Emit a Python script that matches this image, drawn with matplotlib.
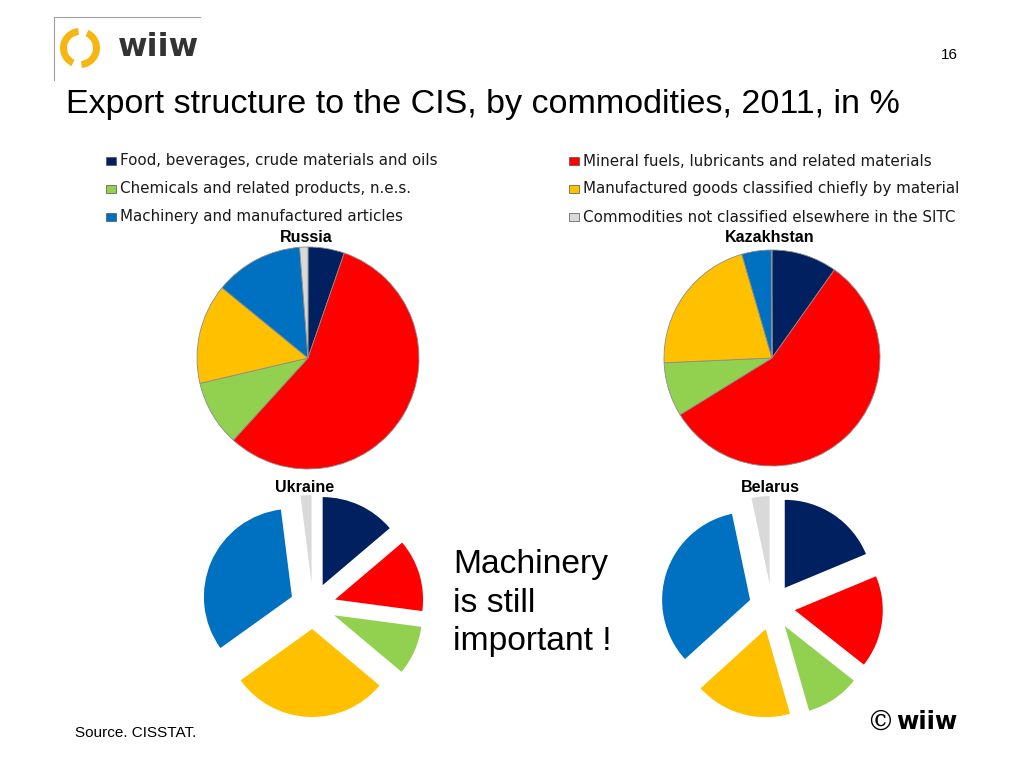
import numpy as np
import matplotlib
matplotlib.use("Agg")
import matplotlib.pyplot as plt
from matplotlib.patches import Rectangle, Wedge

# categories (legend order: left column then right column)
categories = ["Food, beverages, crude materials and oils",
              "Mineral fuels, lubricants and related materials",
              "Chemicals and related products, n.e.s.",
              "Manufactured goods classified chiefly by material",
              "Machinery and manufactured articles",
              "Commodities not classified elsewhere in the SITC"]
colors = ["#002060", "#FF0000", "#92D050", "#FFC000", "#0070C0", "#D9D9D9"]

# shares in %, same order as categories
russia = [5.3, 56.5, 9.6, 14.6, 12.9, 1.2]
kazakhstan = [9.8, 56.4, 8.1, 21.2, 4.4, 0.1]
ukraine = [13.8, 13.3, 9.0, 29.0, 32.9, 2.0]
belarus = [18.7, 16.9, 9.9, 17.7, 33.4, 3.3]

fig = plt.figure(figsize=(10.24, 7.68), dpi=100, facecolor="white")
ax = fig.add_axes([0, 0, 1, 1])
H = 768

def py(y):  # pixel row -> data y
    return H - y

# top pies (no explode, thin grey edges)
for vals, cx, cy, r, name in [(russia, 308, 358, 111, "Russia"),
                              (kazakhstan, 772, 358, 108, "Kazakhstan")]:
    ax.pie(vals, colors=colors, startangle=90, counterclock=False,
           center=(cx, py(cy)), radius=r,
           wedgeprops=dict(edgecolor="#8c8c8c", linewidth=0.6))
    ax.text(cx - 2, py(238), name, ha="center", va="center", fontsize=11.5,
            fontweight="bold", family="Liberation Sans")

# bottom pies (exploded)
for vals, cx, cy, r, name, tx in [(ukraine, 313, 606, 88, "Ukraine", 305),
                                  (belarus, 772, 607, 88, "Belarus", 770)]:
    ax.pie(vals, colors=colors, startangle=90, counterclock=False,
           center=(cx, py(cy)), radius=r, explode=[23] * len(vals),
           wedgeprops=dict(linewidth=0))
    ax.text(tx, py(487), name, ha="center", va="center", fontsize=11.5,
            fontweight="bold", family="Liberation Sans")

ax.set_xlim(0, 1024)
ax.set_ylim(0, 768)
ax.set_aspect("equal")
ax.axis("off")

# legend, drawn by hand in two columns
for i, (lab, col) in enumerate(zip(categories, colors)):
    colx = 106 if i % 2 == 0 else 569
    rowy = 161 + 28 * (i // 2)
    ax.add_patch(Rectangle((colx, py(rowy) - 4), 10, 8, facecolor=col,
                           edgecolor="#505050", linewidth=0.5))
    ax.text(colx + 14, py(rowy), lab, ha="left", va="center", fontsize=10.9,
            family="DejaVu Sans", color="#1a1a1a")

# logo box and icon
ax.plot([54, 54], [py(17), py(80)], color="#a0a0a0", lw=0.8)
ax.plot([54, 200], [py(17), py(17)], color="#a0a0a0", lw=0.8)
ax.add_patch(Wedge((80, py(48)), 20, 95, 245, width=7, facecolor="#F7B512", edgecolor="none"))
ax.add_patch(Wedge((80, py(48)), 20, 275, 425, width=7, facecolor="#F7B512", edgecolor="none"))
ax.text(118, py(48), "wiiw", ha="left", va="center", fontsize=23, fontweight="bold",
        family="DejaVu Sans", color="#333333")

ax.text(958, py(55), "16", ha="right", va="center", fontsize=11, family="Liberation Sans")
ax.text(66, py(105), "Export structure to the CIS, by commodities, 2011, in %",
        ha="left", va="center", fontsize=24.5, family="Liberation Sans")

ax.text(453, py(603), "Machinery\nis still\nimportant !", ha="left", va="center",
        fontsize=24.2, family="Liberation Sans", linespacing=1.3)

ax.text(75, py(733), "Source. CISSTAT.", ha="left", va="center", fontsize=11,
        family="Liberation Sans")
ax.text(880, py(722), "\u00a9", ha="center", va="center", fontsize=20,
        family="DejaVu Serif")
ax.text(896, py(722), "wiiw", ha="left", va="center", fontsize=17.5, fontweight="bold",
        family="DejaVu Sans")

fig.savefig("out.png", dpi=100, facecolor="white")
